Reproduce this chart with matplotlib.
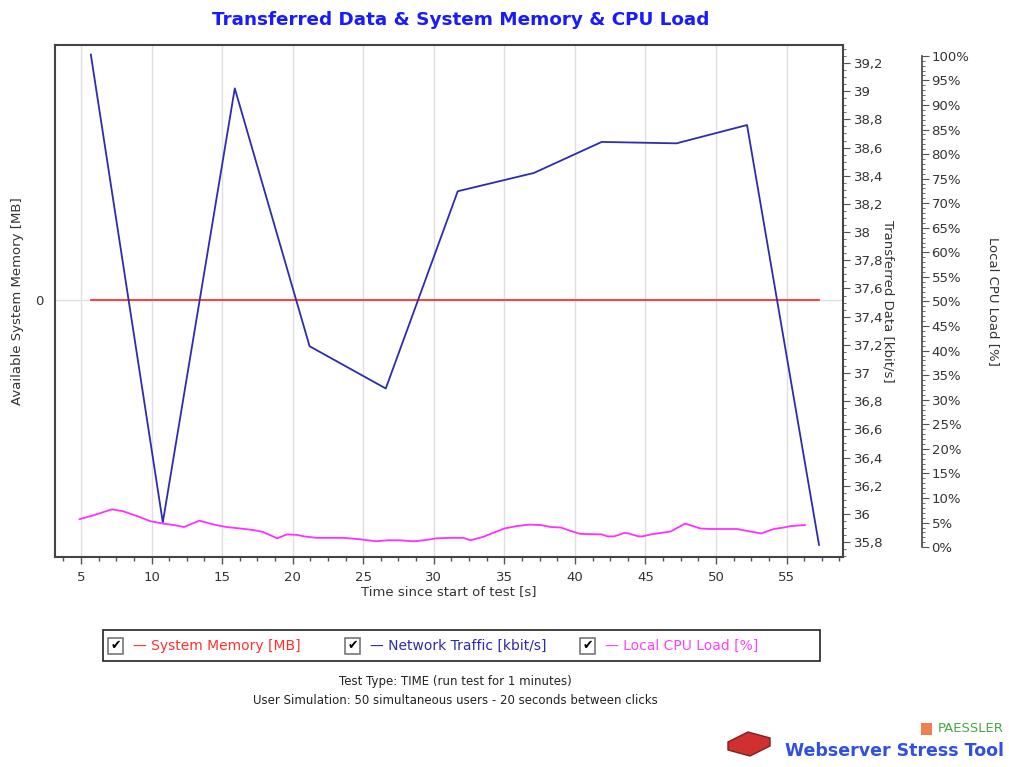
import numpy as np
import matplotlib
matplotlib.use('Agg')
import matplotlib.pyplot as plt
from matplotlib.patches import Rectangle, Polygon
from matplotlib.ticker import FuncFormatter, MultipleLocator, FixedLocator

# Datos
net_t = [5.7, 10.8, 15.9, 21.2, 26.6, 31.7, 37.1, 41.9, 47.2, 52.2, 57.3]
net_kbit = [39.26, 35.94, 39.02, 37.19, 36.89, 38.29, 38.42, 38.64, 38.63, 38.76, 35.78]

mem_t = net_t
mem_mb = [0] * len(net_t)

cpu_t = [4.9, 5.9, 7.2, 8.0, 9.1, 9.9, 10.8, 11.6, 12.3, 13.4, 14.4, 15.3, 16.3,
         17.2, 17.9, 18.9, 19.6, 20.3, 20.8, 21.7, 22.4, 23.6, 24.8, 25.9, 26.7,
         27.6, 28.6, 29.3, 30.2, 31.2, 32.1, 32.6, 33.5, 34.2, 35.0, 35.9, 36.8,
         37.6, 38.3, 39.0, 39.7, 40.4, 41.9, 42.3, 42.8, 43.5, 43.8, 44.5, 44.8,
         45.4, 46.1, 46.8, 47.8, 48.9, 49.6, 51.5, 52.2, 53.2, 54.1, 54.8, 55.3, 56.3]
cpu_pct = [5.7, 6.5, 7.7, 7.3, 6.2, 5.3, 4.8, 4.5, 4.1, 5.4, 4.6, 4.1, 3.8,
           3.5, 3.1, 1.8, 2.6, 2.5, 2.2, 1.9, 1.9, 1.9, 1.6, 1.2, 1.4,
           1.4, 1.2, 1.4, 1.8, 1.9, 1.9, 1.4, 2.1, 2.9, 3.8, 4.3, 4.6,
           4.5, 4.1, 4.0, 3.3, 2.7, 2.6, 2.2, 2.2, 2.9, 2.8, 2.2, 2.2,
           2.6, 2.9, 3.2, 4.8, 3.8, 3.7, 3.7, 3.3, 2.8, 3.7, 4.0, 4.3, 4.5]

x_ticks = [5, 10, 15, 20, 25, 30, 35, 40, 45, 50, 55]

RED = '#ff3030'
BLUE = '#2c2cb0'
MAGENTA = '#ff30ff'
TXT = '#333333'

plt.rcParams['font.family'] = ['DejaVu Sans']
plt.rcParams['font.size'] = 9.5

W, H = 1009, 767
fig = plt.figure(figsize=(W / 100, H / 100), dpi=100)
fig.patch.set_facecolor('white')

# eje principal (memoria)
ax = fig.add_axes([55 / W, 1 - 557 / H, (843 - 55) / W, (557 - 45) / H])
ax.plot(mem_t, mem_mb, color=RED, lw=1.3, zorder=3)
ax.set_xlim(3.16, 59.0)
ax.set_ylim(-1.0, 0.99)
ax.set_xticks(x_ticks)
ax.xaxis.set_minor_locator(MultipleLocator(1.25))
ax.set_yticks([0])
ax.tick_params(axis='x', which='major', length=5, width=1, color='#555555',
               labelcolor=TXT, pad=5)
ax.tick_params(axis='x', which='minor', length=3, width=1, color='#555555')
ax.tick_params(axis='y', length=0, labelcolor=TXT, pad=8)
ax.grid(True, color='#e0e0e0', lw=1)
ax.set_axisbelow(True)
ax.set_xlabel('Time since start of test [s]', color=TXT, labelpad=1)
ax.set_ylabel('Available System Memory [MB]', color=TXT, labelpad=8)
for s in ['left', 'bottom', 'top']:
    ax.spines[s].set_color('#444444')
    ax.spines[s].set_linewidth(1.5)
ax.spines['right'].set_visible(False)

# eje de datos transferidos
ax2 = ax.twinx()
ax2.plot(net_t, net_kbit, color=BLUE, lw=1.3, zorder=3)
ax2.set_ylim(35.694, 39.328)
ax2.yaxis.set_major_locator(FixedLocator(np.arange(35.8, 39.25, 0.2)))
ax2.yaxis.set_minor_locator(MultipleLocator(0.05))
ax2.yaxis.set_major_formatter(FuncFormatter(lambda v, p: f"{round(v, 1):g}".replace('.', ',')))
ax2.tick_params(axis='y', which='major', length=5, color='#555555', labelcolor=TXT, pad=3)
ax2.tick_params(axis='y', which='minor', length=2.5, color='#555555')
ax2.set_ylabel('Transferred Data [kbit/s]', color=TXT, rotation=-90, labelpad=8)
for s in ['left', 'bottom', 'top']:
    ax2.spines[s].set_visible(False)
ax2.spines['right'].set_color('#444444')
ax2.spines['right'].set_linewidth(1.5)

# eje de carga de CPU
ax3 = ax.twinx()
ax3.plot(cpu_t, cpu_pct, color=MAGENTA, lw=1.3, zorder=3)
ax3.set_ylim(-2.0, 102.2)
ax3.spines['right'].set_position(('axes', 1.1))
ax3.yaxis.set_major_locator(MultipleLocator(5))
ax3.yaxis.set_minor_locator(FixedLocator(np.arange(0, 101, 1)))
ax3.yaxis.set_major_formatter(FuncFormatter(lambda v, p: f"{int(round(v))}%"))
ax3.tick_params(axis='y', which='major', length=5, color='#555555', labelcolor=TXT, pad=2)
ax3.tick_params(axis='y', which='minor', length=2.5, color='#555555')
ax3.set_ylabel('Local CPU Load [%]', color=TXT, rotation=-90, labelpad=22)
for s in ['left', 'bottom', 'top']:
    ax3.spines[s].set_visible(False)
ax3.spines['right'].set_color('#444444')
ax3.spines['right'].set_linewidth(1.2)
ax3.spines['right'].set_bounds(0, 100)

# titulo
fig.text(461 / W, 1 - 20 / H, 'Transferred Data & System Memory & CPU Load',
         ha='center', va='center', color='#1a1aff', fontsize=13.2, weight='bold')

# leyenda con casillas
fig.patches.append(Rectangle((103 / W, 1 - 661 / H), (820 - 103) / W, 31 / H,
                             transform=fig.transFigure, fill=False,
                             edgecolor='#222222', lw=1.2))
items = [(108, 'System Memory [MB]', RED),
         (345, 'Network Traffic [kbit/s]', BLUE),
         (580, 'Local CPU Load [%]', '#ff40ff')]
for x0, lab, col in items:
    fig.patches.append(Rectangle((x0 / W, 1 - 654 / H), 15 / W, 16 / H,
                                 transform=fig.transFigure, facecolor='white',
                                 edgecolor='#777777', lw=1.2))
    fig.text((x0 + 7.5) / W, 1 - 646 / H, '\u2714', ha='center', va='center',
             fontsize=9, color='black')
    fig.text((x0 + 25) / W, 1 - 646 / H, '\u2014 ' + lab, ha='left', va='center',
             fontsize=10, color=col)

fig.text(455 / W, 1 - 682 / H, 'Test Type: TIME (run test for 1 minutes)',
         ha='center', va='center', fontsize=8.5, color='#222222')
fig.text(455 / W, 1 - 700 / H, 'User Simulation: 50 simultaneous users - 20 seconds between clicks',
         ha='center', va='center', fontsize=8.5, color='#222222')

# logo
fig.patches.append(Rectangle((921 / W, 1 - 735 / H), 11 / W, 12 / H,
                             transform=fig.transFigure, facecolor='#f08050',
                             edgecolor='none'))
fig.text(1004 / W, 1 - 729 / H, 'PAESSLER', ha='right', va='center',
         fontsize=9.5, color='#44aa44')
fig.text(1004 / W, 1 - 751 / H, 'Webserver Stress Tool', ha='right', va='center',
         fontsize=12.5, weight='bold', color='#3050e0')
fig.patches.append(Polygon([(728 / W, 1 - 742 / H), (748 / W, 1 - 732 / H),
                            (770 / W, 1 - 738 / H), (770 / W, 1 - 746 / H),
                            (750 / W, 1 - 756 / H), (728 / W, 1 - 750 / H)],
                           closed=True, transform=fig.transFigure,
                           facecolor='#d03030', edgecolor='#802020'))

fig.savefig('out.png', dpi=100)
